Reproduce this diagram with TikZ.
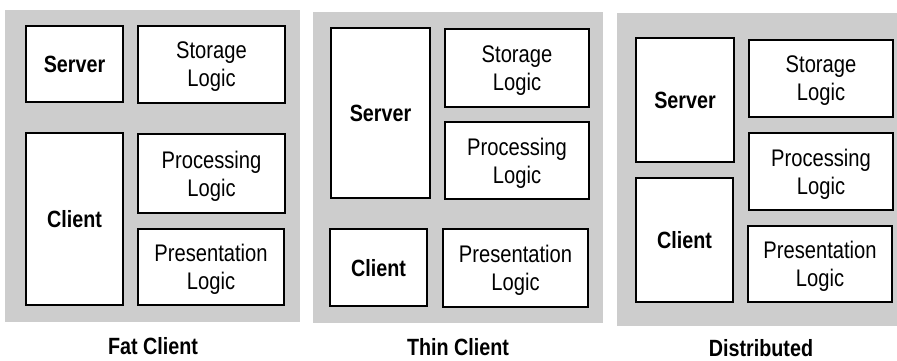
\documentclass[tikz,border=0pt]{standalone}
\usepackage{fontspec}
\setmainfont{Liberation Sans}[FakeStretch=0.84]
\begin{document}
\begin{tikzpicture}[x=1pt,y=-1pt,
  panel/.style={fill=panelgray,draw=none},
  box/.style={draw=black,fill=white,line width=2pt,inner sep=0pt,align=center,
    text depth=0pt,font=\fontsize{24}{28}\selectfont},
  bbox/.style={box,font=\fontsize{23.5}{28}\selectfont\bfseries},
  caption/.style={font=\fontsize{23.5}{28}\selectfont\bfseries,inner sep=0pt,
    text depth=0pt,anchor=base}]
\definecolor{panelgray}{RGB}{205,205,205}
\useasboundingbox (0,0) rectangle (897,360);
% panels
\fill[panel] (5,10) rectangle (300,322);
\fill[panel] (313,12) rectangle (603,323);
\fill[panel] (617,13) rectangle (897,326);
% Fat client
\node[bbox,minimum width=97pt,minimum height=76pt] (fs) at (74.5,64) {Server};
\node[box,minimum width=147pt,minimum height=77pt] (fst) at (211.5,64.5) {Storage\\Logic};
\node[bbox,minimum width=97pt,minimum height=172pt] (fc) at (74.5,219) {Client};
\node[box,minimum width=147pt,minimum height=79pt] (fp) at (211.5,173.5) {Processing\\Logic};
\node[box,minimum width=146pt,minimum height=76pt] (fpr) at (211,267) {Presentation\\Logic};
\node[caption] (fl) at (153,354) {Fat Client};
% Thin client
\node[bbox,minimum width=99pt,minimum height=170pt] (ts) at (380.5,113) {Server};
\node[box,minimum width=144pt,minimum height=78pt] (tst) at (517,68) {Storage\\Logic};
\node[box,minimum width=144pt,minimum height=77pt] (tp) at (517,160.5) {Processing\\Logic};
\node[bbox,minimum width=97pt,minimum height=77pt] (tc) at (378.5,267.5) {Client};
\node[box,minimum width=145pt,minimum height=78pt] (tpr) at (515.5,268) {Presentation\\Logic};
\node[caption] (tl) at (458,355) {Thin Client};
% Distributed
\node[bbox,minimum width=98pt,minimum height=124pt] (ds) at (685,100) {Server};
\node[bbox,minimum width=97pt,minimum height=124pt] (dc) at (684.5,240) {Client};
\node[box,minimum width=144pt,minimum height=77pt] (dst) at (821,78.5) {Storage\\Logic};
\node[box,minimum width=144pt,minimum height=77pt] (dp) at (821,171.5) {Processing\\Logic};
\node[box,minimum width=144pt,minimum height=76pt] (dpr) at (820,264) {Presentation\\Logic};
\node[caption] (dl) at (761,356) {Distributed};
\end{tikzpicture}
\end{document}
